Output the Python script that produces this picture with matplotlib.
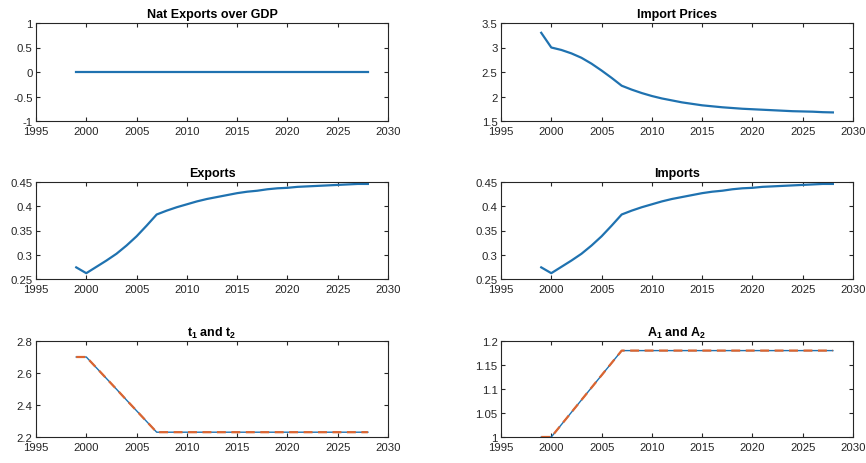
import numpy as np
import matplotlib.pyplot as plt

plt.rcParams['font.family'] = ['Liberation Sans', 'DejaVu Sans']
plt.rcParams['mathtext.fontset'] = 'custom'
plt.rcParams['mathtext.bf'] = 'Liberation Sans:bold'
plt.rcParams['mathtext.rm'] = 'Liberation Sans'

# Data (annual, 1999-2028)
years = list(range(1999, 2029))

net_exports = [0.0] * 30

import_prices = [3.30, 3.00, 2.95, 2.88, 2.79, 2.67, 2.53, 2.38, 2.22,
                 2.14, 2.07, 2.01, 1.96, 1.92, 1.88, 1.85, 1.82, 1.80,
                 1.78, 1.765, 1.75, 1.74, 1.73, 1.72, 1.71, 1.70, 1.695,
                 1.69, 1.68, 1.675]

exports = [0.274, 0.262, 0.275, 0.288, 0.302, 0.319, 0.338, 0.360, 0.383,
           0.391, 0.398, 0.404, 0.410, 0.415, 0.419, 0.423, 0.427, 0.430,
           0.432, 0.435, 0.437, 0.438, 0.440, 0.441, 0.442, 0.443, 0.444,
           0.445, 0.446, 0.446]

imports = [0.274, 0.262, 0.275, 0.288, 0.302, 0.319, 0.338, 0.360, 0.383,
           0.391, 0.398, 0.404, 0.410, 0.415, 0.419, 0.423, 0.427, 0.430,
           0.432, 0.435, 0.437, 0.438, 0.440, 0.441, 0.442, 0.443, 0.444,
           0.445, 0.446, 0.446]

t1 = [2.70, 2.70, 2.633, 2.566, 2.499, 2.431, 2.364, 2.297] + [2.23] * 22
t2 = [2.70, 2.70, 2.633, 2.566, 2.499, 2.431, 2.364, 2.297] + [2.23] * 22

A1 = [1.0, 1.0, 1.0257, 1.0514, 1.0771, 1.1029, 1.1286, 1.1543] + [1.18] * 22
A2 = [1.0, 1.0, 1.0257, 1.0514, 1.0771, 1.1029, 1.1286, 1.1543] + [1.18] * 22

blue = '#1f72b0'
orange = '#dc6530'
grey = '#262626'

fig = plt.figure(figsize=(8.66, 4.64), dpi=100)

W, H = 866, 464
cols = [36, 501]
width = 352
rows = [(24, 122), (183, 280), (342, 438)]


def make_ax(r, c):
    top, bot = rows[r]
    ax = fig.add_axes([cols[c] / W, 1 - bot / H, width / W, (bot - top) / H])
    ax.set_xlim(1995, 2030)
    ax.set_xticks(range(1995, 2031, 5))
    ax.tick_params(direction='in', top=True, right=True, length=3,
                   labelsize=8.2, colors=grey, pad=2.5)
    ax.tick_params(axis='x', pad=3.5)
    for s in ax.spines.values():
        s.set_color(grey)
        s.set_linewidth(0.8)
    return ax


def title(ax, txt):
    ax.set_title(txt, fontsize=9, fontweight='bold', pad=4, color='black')


ax = make_ax(0, 0)
ax.plot(years, net_exports, color=blue, lw=1.6)
ax.set_ylim(-1, 1)
ax.set_yticks([-1, -0.5, 0, 0.5, 1])
ax.set_yticklabels(['-1', '-0.5', '0', '0.5', '1'])
title(ax, 'Nat Exports over GDP')

ax = make_ax(0, 1)
ax.plot(years, import_prices, color=blue, lw=1.6)
ax.set_ylim(1.5, 3.5)
ax.set_yticks([1.5, 2, 2.5, 3, 3.5])
ax.set_yticklabels(['1.5', '2', '2.5', '3', '3.5'])
title(ax, 'Import Prices')

ax = make_ax(1, 0)
ax.plot(years, exports, color=blue, lw=1.6)
ax.set_ylim(0.25, 0.45)
ax.set_yticks([0.25, 0.3, 0.35, 0.4, 0.45])
ax.set_yticklabels(['0.25', '0.3', '0.35', '0.4', '0.45'])
title(ax, 'Exports')

ax = make_ax(1, 1)
ax.plot(years, imports, color=blue, lw=1.6)
ax.set_ylim(0.25, 0.45)
ax.set_yticks([0.25, 0.3, 0.35, 0.4, 0.45])
ax.set_yticklabels(['0.25', '0.3', '0.35', '0.4', '0.45'])
title(ax, 'Imports')

ax = make_ax(2, 0)
ax.plot(years, t1, color=blue, lw=1.0)
ax.plot(years, t2, color=orange, lw=1.6, ls=(0, (4, 2.5)))
ax.set_ylim(2.2, 2.8)
ax.set_yticks([2.2, 2.4, 2.6, 2.8])
title(ax, r'$\mathbf{t_1}$ and $\mathbf{t_2}$')

ax = make_ax(2, 1)
ax.plot(years, A1, color=blue, lw=1.0)
ax.plot(years, A2, color=orange, lw=1.6, ls=(0, (4, 2.5)))
ax.set_ylim(1.0, 1.2)
ax.set_yticks([1, 1.05, 1.1, 1.15, 1.2])
ax.set_yticklabels(['1', '1.05', '1.1', '1.15', '1.2'])
title(ax, r'$\mathbf{A_1}$ and $\mathbf{A_2}$')

fig.savefig('out.png', dpi=100, facecolor='white')
